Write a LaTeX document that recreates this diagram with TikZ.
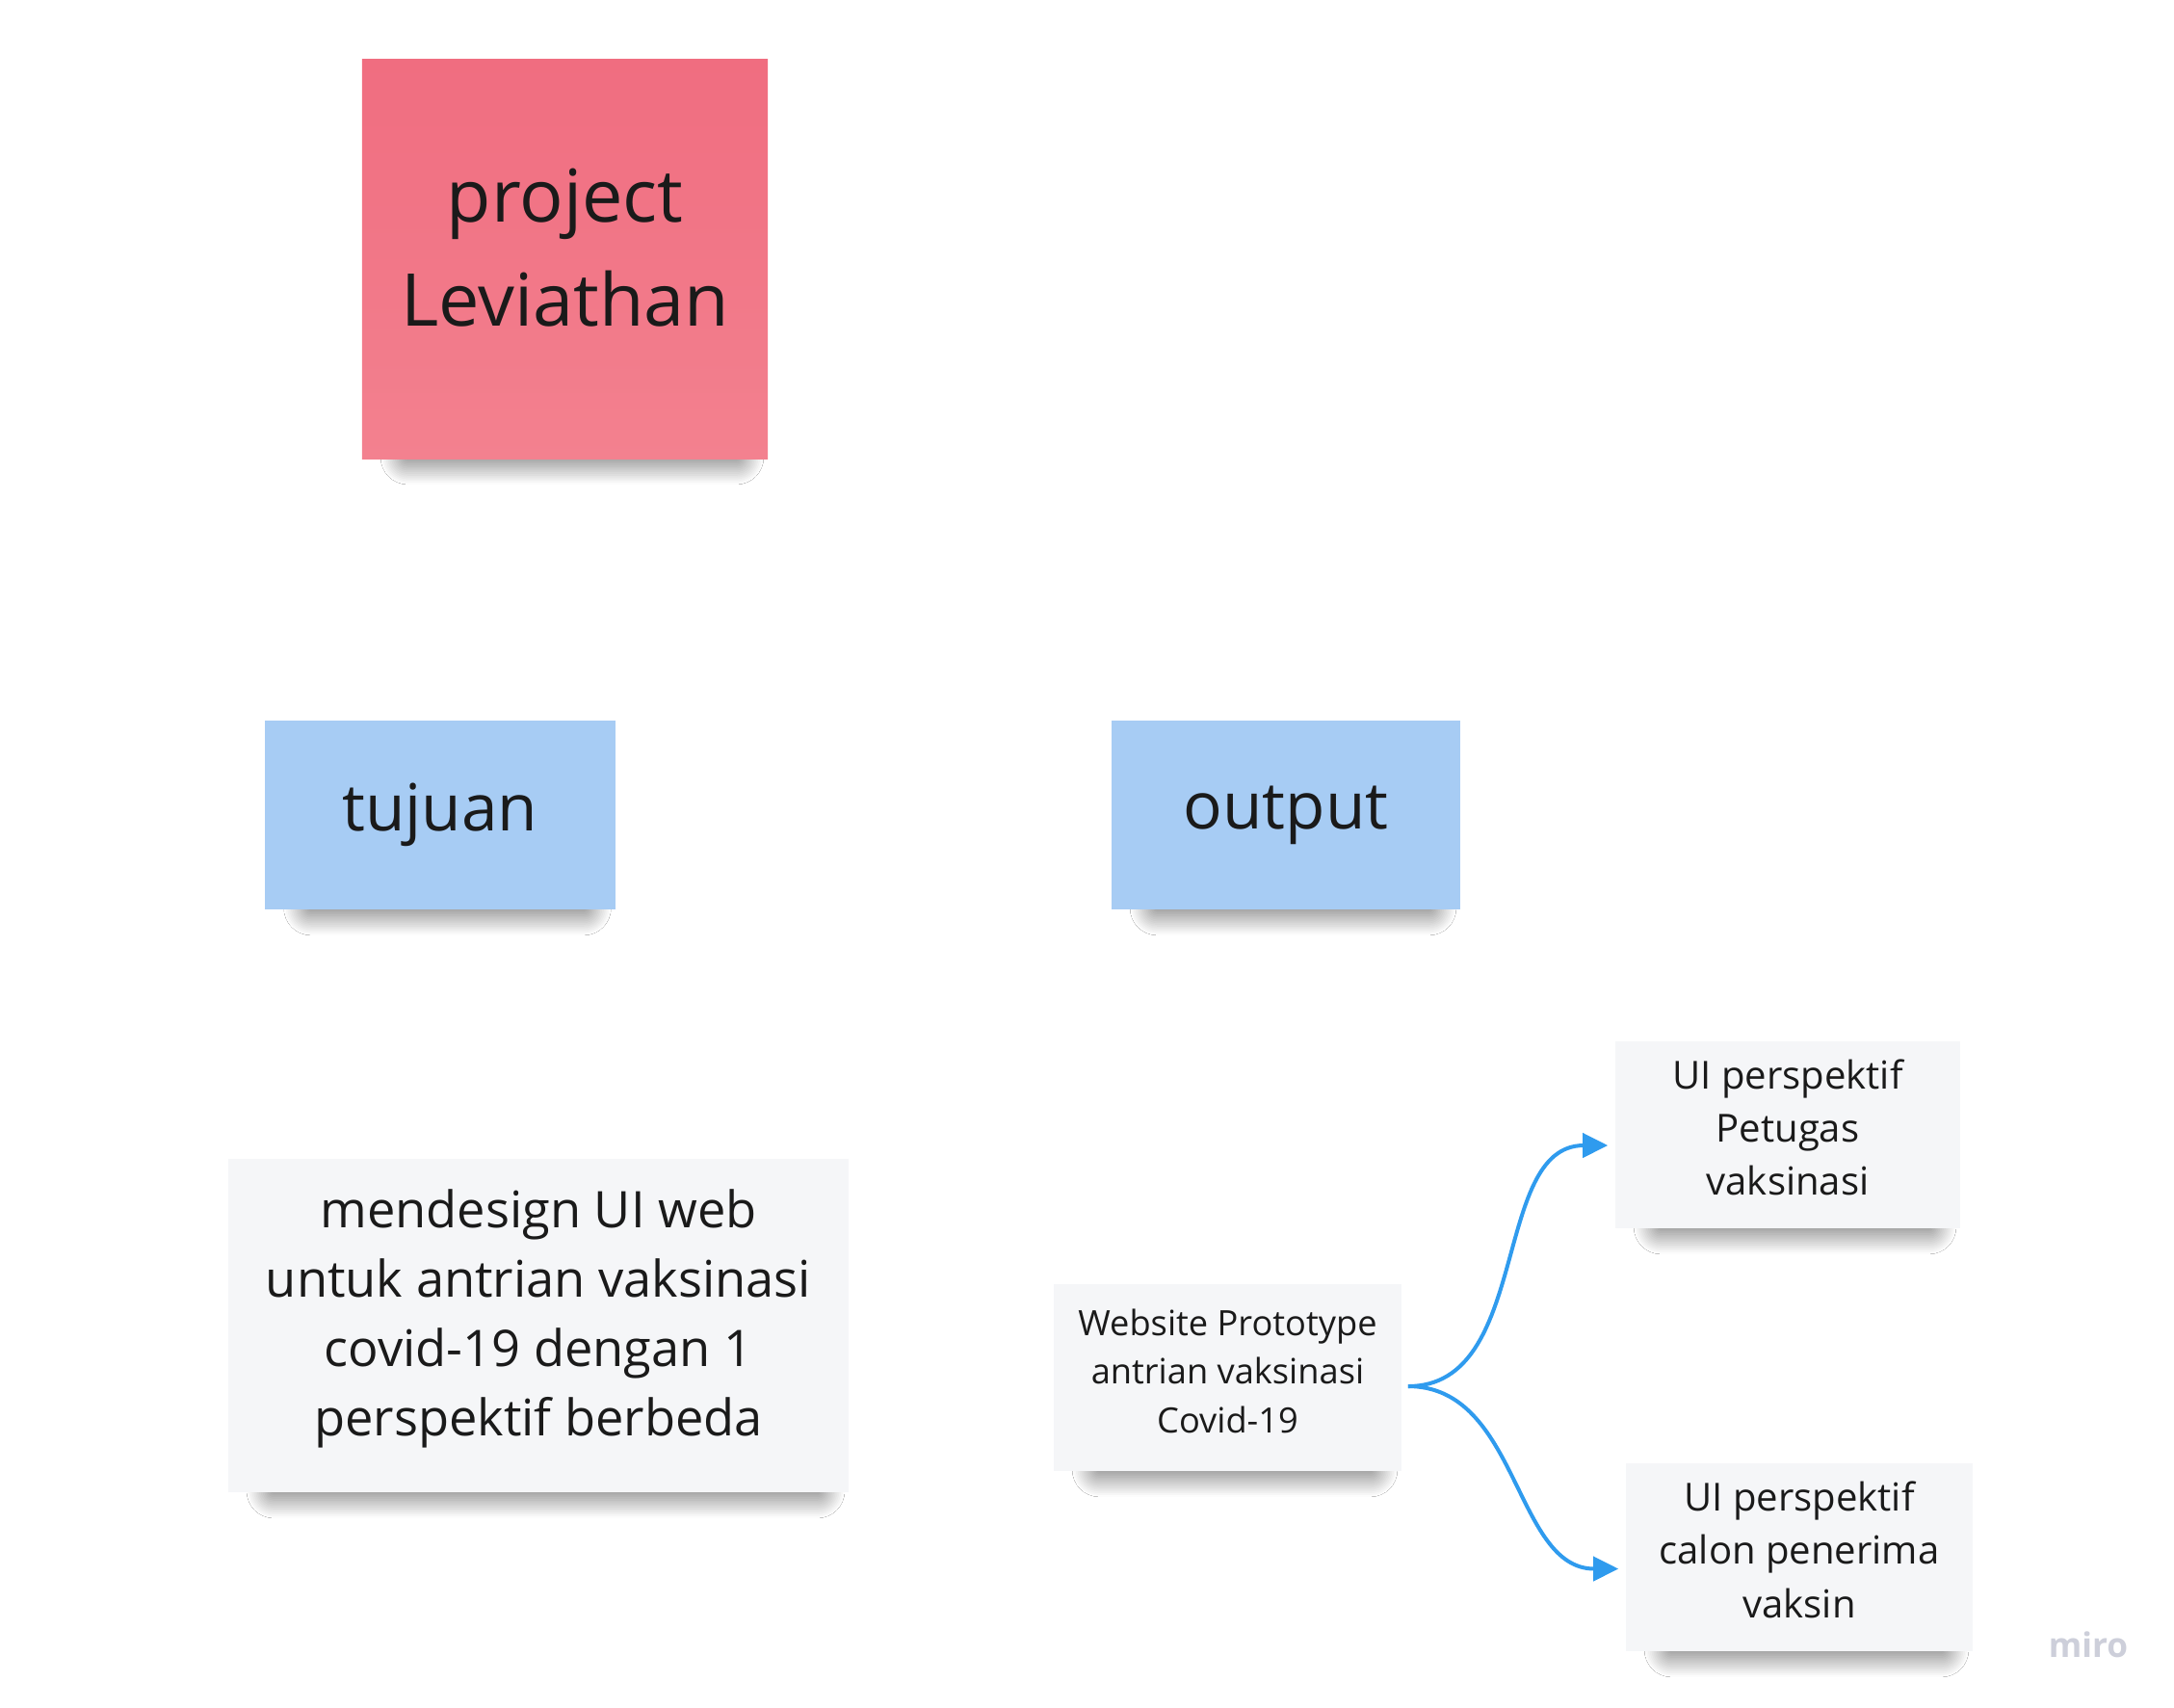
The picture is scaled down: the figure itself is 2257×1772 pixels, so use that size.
\documentclass[tikz,border=0pt]{standalone}
\usepackage{fontspec}
\setmainfont{Open Sans}
\usetikzlibrary{arrows.meta,shadows.blur,backgrounds}
\definecolor{pinktop}{HTML}{F06D80}
\definecolor{pinkbottom}{HTML}{F3818F}
\definecolor{noteblue}{HTML}{A7CCF4}
\definecolor{notegray}{HTML}{F5F6F8}
\definecolor{notetext}{HTML}{1A1A1A}
\definecolor{linkblue}{HTML}{2F9BEE}
\definecolor{logogray}{HTML}{CDCFDA}

\begin{document}
\begin{tikzpicture}[
    x=0.01cm, y=-0.01cm,
    note/.style={
      rectangle, align=center, text=notetext, inner sep=0pt
    },
    note shadow/.style={
      blur shadow={shadow xshift=0cm, shadow yshift=0cm,
        shadow blur radius=0.28cm, shadow blur steps=16, shadow opacity=75}
    },
    link/.style={
      draw=linkblue, line width=0.04cm,
      -{Triangle[length=0.26cm, width=0.25cm]}, shorten >=0.07cm
    }
    ]
  \useasboundingbox (0,0) rectangle (2257,1772);

  \node[note, top color=pinktop, bottom color=pinkbottom, minimum width=4.21cm, minimum height=4.14cm,
    text depth=0.24cm, font=\fontsize{21.5}{30.7}\selectfont] (n0) at (586.5,269) {project\\Leviathan};

  \node[note, fill=noteblue, minimum width=3.63cm, minimum height=1.96cm,
    font=\fontsize{19.2}{26}\selectfont] (n11) at (457,846) {tujuan};
  \node[note, fill=noteblue, minimum width=3.62cm, minimum height=1.96cm,
    font=\fontsize{19.2}{26}\selectfont] (n12) at (1335,846) {output};

  \node[note, fill=notegray, minimum width=6.44cm, minimum height=3.46cm,
    text depth=0.27cm, font=\fontsize{14.9}{20.5}\selectfont] (n21) at (559,1376) {mendesign UI web\\untuk antrian vaksinasi\\covid-19 dengan 1\\perspektif berbeda};
  \node[note, fill=notegray, minimum width=3.61cm, minimum height=1.94cm,
    text depth=0.14cm, font=\fontsize{10.3}{14.3}\selectfont] (n22) at (1274.5,1430) {Website Prototype\\antrian vaksinasi\\Covid-19};

  \node[note, fill=notegray, minimum width=3.58cm, minimum height=1.94cm,
    text depth=0.16cm, font=\fontsize{11.4}{15.7}\selectfont] (n31) at (1856,1178) {UI perspektif\\Petugas\\vaksinasi};
  \node[note, fill=notegray, minimum width=3.6cm, minimum height=1.95cm,
    text depth=0.16cm, font=\fontsize{11.4}{15.7}\selectfont] (n32) at (1868,1616.5) {UI perspektif\\calon penerima\\vaksin};

  \draw[link] ([yshift=-0.09cm, xshift=0.06cm]n22.east) to[out=0, in=180] ([yshift=-0.11cm]n31.west);
  \draw[link] ([yshift=-0.09cm, xshift=0.06cm]n22.east) to[out=0, in=180] ([yshift=-0.12cm]n32.west);

  \node[text=logogray, font=\fontsize{10}{12}\selectfont\bfseries] (logo) at (2168,1707) {miro};

  \begin{scope}[on background layer]
    \fill[white] (0,0) rectangle (2257,1772);
    \foreach \n in {n0,n11,n12,n21,n22,n31,n32}
      \path[note shadow] ([xshift=0.48cm, yshift=0.7cm]\n.south west) rectangle ([xshift=-0.33cm, yshift=0.02cm]\n.south east);
  \end{scope}
\end{tikzpicture}
\end{document}
